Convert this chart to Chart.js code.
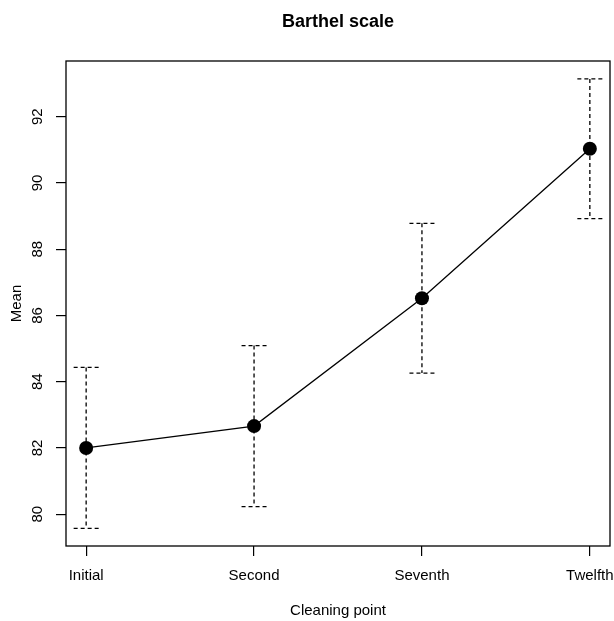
<!DOCTYPE html>
<html>
<head>
<meta charset="utf-8">
<title>Barthel scale</title>
<script src="https://cdn.jsdelivr.net/npm/chart.js@4"></script>
<style>
    body { margin: 0; background: #fff; }
    canvas { display: block; }
</style>
</head>
<body>
<canvas id="barthelChart" width="614" height="621"></canvas>
<script>
const stages = ["Initial", "Second", "Seventh", "Twelfth"];
const stagePos = [1, 2, 3, 4];
const means = [82.0, 82.66, 86.52, 91.03];
const sds = [2.43, 2.43, 2.26, 2.11];
const yTicks = [80, 82, 84, 86, 88, 90, 92];

const fontFamily = '"Liberation Sans", Arial, Helvetica, sans-serif';

// R style box, tick labels and dashed error bars
const rStylePlugin = {
    id: 'rStyle',
    beforeDatasetsDraw(chart) {
        const { ctx, scales: { x, y } } = chart;
        ctx.save();
        ctx.strokeStyle = '#000';
        ctx.lineWidth = 1.3;
        ctx.setLineDash([4, 3]);
        stagePos.forEach((p, i) => {
            const px = x.getPixelForValue(p);
            const top = y.getPixelForValue(means[i] + sds[i]);
            const bottom = y.getPixelForValue(means[i] - sds[i]);
            ctx.beginPath();
            ctx.moveTo(px, top);
            ctx.lineTo(px, bottom);
            ctx.moveTo(px - 12.5, top);
            ctx.lineTo(px + 12.5, top);
            ctx.moveTo(px - 12.5, bottom);
            ctx.lineTo(px + 12.5, bottom);
            ctx.stroke();
        });
        ctx.restore();
    },
    afterDraw(chart) {
        const { ctx, chartArea, scales: { x, y } } = chart;
        ctx.save();
        ctx.strokeStyle = '#000';
        ctx.lineWidth = 1.3;
        ctx.strokeRect(chartArea.left, chartArea.top,
            chartArea.right - chartArea.left, chartArea.bottom - chartArea.top);

        ctx.fillStyle = '#000';
        ctx.font = '15px ' + fontFamily;
        ctx.textAlign = 'center';
        ctx.textBaseline = 'middle';
        x.ticks.forEach((t, i) => {
            ctx.fillText(stages[i], x.getPixelForValue(t.value), 576);
        });
        y.ticks.forEach(t => {
            ctx.save();
            ctx.translate(38, y.getPixelForValue(t.value));
            ctx.rotate(-Math.PI / 2);
            ctx.fillText(String(t.value), 0, 0);
            ctx.restore();
        });
        ctx.restore();
    }
};

new Chart(document.getElementById("barthelChart"), {
    type: "line",
    data: {
        datasets: [{
            data: stagePos.map((p, i) => ({ x: p, y: means[i] })),
            borderColor: "#000",
            borderWidth: 1.3,
            pointRadius: 7,
            pointBackgroundColor: "#000",
            pointBorderWidth: 0,
            fill: false,
            tension: 0
        }]
    },
    options: {
        responsive: false,
        animation: false,
        layout: {
            autoPadding: false,
            padding: { left: 0, right: 4, top: 0, bottom: 0 }
        },
        scales: {
            x: {
                type: "linear",
                min: 0.88,
                max: 4.12,
                afterBuildTicks: s => { s.ticks = stagePos.map(v => ({ value: v })); },
                ticks: { display: false },
                border: { display: false },
                grid: {
                    drawOnChartArea: false,
                    drawTicks: true,
                    tickLength: 10,
                    color: "#000",
                    lineWidth: 1.2
                },
                title: {
                    display: true,
                    text: "Cleaning point",
                    color: "#000",
                    font: { family: fontFamily, size: 15 },
                    padding: { top: 46, bottom: 1 }
                }
            },
            y: {
                min: 79.04,
                max: 93.68,
                afterBuildTicks: s => { s.ticks = yTicks.map(v => ({ value: v })); },
                ticks: { display: false },
                border: { display: false },
                grid: {
                    drawOnChartArea: false,
                    drawTicks: true,
                    tickLength: 10,
                    color: "#000",
                    lineWidth: 1.2
                },
                title: {
                    display: true,
                    text: "Mean",
                    color: "#000",
                    font: { family: fontFamily, size: 15 },
                    padding: { top: 8, bottom: 30 }
                }
            }
        },
        plugins: {
            legend: { display: false },
            tooltip: { enabled: false },
            title: {
                display: true,
                fullSize: false,
                text: "Barthel scale",
                color: "#000",
                font: { family: fontFamily, size: 18, weight: "bold" },
                padding: { top: 11, bottom: 28.4 }
            }
        }
    },
    plugins: [rStylePlugin]
});
</script>
</body>
</html>
